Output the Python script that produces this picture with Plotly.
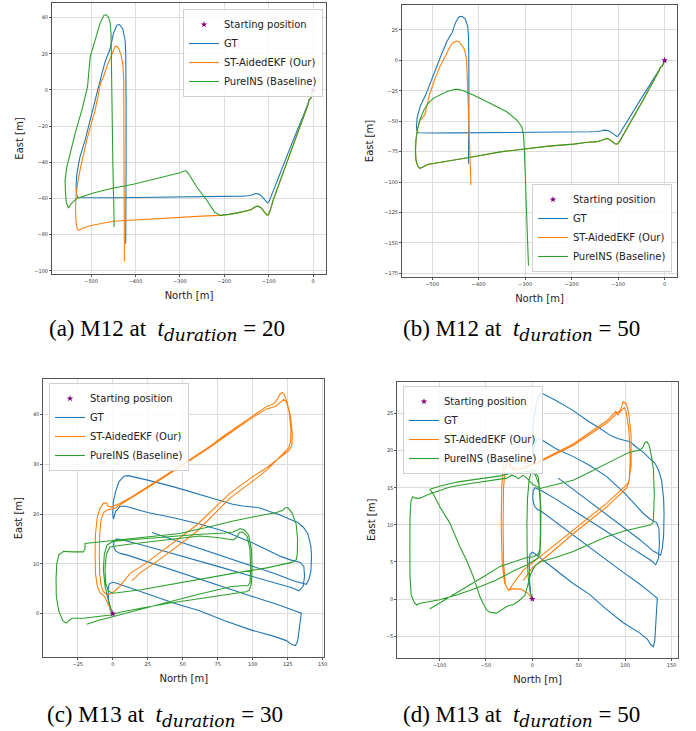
import plotly.graph_objects as go

# ---------------- data: (North [m], East [m]) ----------------
# M12 ground truth (panels a and b)
gt12 = [(0,0),(-2,-2.5),(-5,-4.5),(-9,-5.5),(-12,-8),(-50,-31),(-90,-56),(-97,-60.5),(-100,-62.2),
        (-103,-62.5),(-108,-61),(-115,-59),(-122,-57.6),(-130,-57.3),(-137,-58),(-145,-58.5),(-160,-58.7),
        (-200,-58.9),(-250,-59.1),(-300,-59.2),(-350,-59.4),(-400,-59.5),(-450,-59.6),(-500,-59.7),
        (-525,-59.8),(-530,-59.5),(-533,-57.5),(-534,-53.7),(-532,-46.3),(-525,-37),(-513.5,-27.9),
        (-506,-20),(-494.6,-9.4),(-479.6,5.3),(-468.5,15.5),(-457,22.9),(-449.7,31.2),(-442.2,35.8),
        (-436,36.2),(-428.7,33.9),(-423.4,27.5),(-422,20.1),(-421.5,8),(-421.2,-5.7),(-421.2,-42.6),(-422,-85)]

# M12, t_duration = 20
ekf12_t20 = [(0,0),(-2,-2.5),(-5,-4.5),(-9,-5.5),(-12,-8.5),(-50,-34),(-90,-61),(-97,-67),(-100.5,-69),
             (-104,-69.2),(-110,-67.5),(-118,-65),(-125,-64.3),(-130,-64.6),(-140,-66.3),(-150,-67),(-170,-68),
             (-190,-68.8),(-209.5,-69.4),(-250,-69.8),(-300,-70.4),(-350,-71.2),(-400,-72),(-450,-72.6),
             (-500,-75),(-520,-76.5),(-527,-77.7),(-531,-77),(-534,-73),(-535,-66),(-534,-59),(-530,-51),
             (-525,-44.5),(-518,-36),(-510,-28),(-500,-19),(-491,-11.3),(-484,-3),(-480,2.6),(-476,5.5),
             (-472,7.2),(-465,12.7),(-457,17.3),(-450,22),(-446,24),(-442,24.2),(-437,22.5),(-432,19),
             (-428,13),(-426.5,5),(-426,-20),(-425.5,-60),(-425,-94.8)]
ins12_t20 = [(0,0),(-2,-2.5),(-5,-4.5),(-9,-5.5),(-12,-8.5),(-50,-34),(-90,-61),(-97,-67),(-100.5,-69),
             (-104,-69.2),(-110,-67.5),(-118,-65),(-125,-64.3),(-130,-64.6),(-140,-66.3),(-150,-67),(-170,-68),
             (-190,-68.8),(-209.5,-69.4),(-222,-67.5),(-239.5,-61),(-262,-53.7),(-280,-46.5),(-287,-44.6),
             (-300,-45.8),(-352,-49),(-405,-52.2),(-457,-54.6),(-495,-57),(-532,-60),(-545,-63),(-551,-65.3),
             (-556,-62),(-557.5,-57),(-558.6,-50),(-555,-43),(-551,-39),(-536,-24.2),(-521,-11.3),(-508,1.7),
             (-502,18.3),(-491,27.5),(-480,36.7),(-471,41.3),(-466,41.6),(-461,40.4),(-457,37),(-455,31),
             (-453.5,15),(-453,-5.7),(-451,-40),(-448,-75.8)]

# M12, t_duration = 50
ekf12_t50 = [(0,0),(-2,-2.5),(-5,-4.5),(-9,-5.5),(-12,-8.5),(-50,-35),(-90,-61),(-97,-66.5),(-102.7,-68.8),
             (-107,-68.5),(-115,-66),(-124,-64.1),(-132,-65.2),(-146,-66.8),(-170,-67.5),(-196,-68.8),
             (-250,-70.5),(-304,-72.9),(-350,-75),(-411.6,-79.2),(-450,-81.5),(-483.5,-83.3),(-510,-85.5),
             (-522,-88),(-526.6,-88.8),(-531,-87),(-535,-82),(-536,-74),(-535,-65.5),(-532,-57),(-526.5,-49.2),
             (-516,-45),(-505,-27),(-494,-15),(-483.5,-5.2),(-470.5,4.4),(-462,11.2),(-455,14.5),(-447.6,15.9),
             (-441,15),(-437,12.6),(-432,10),(-429.6,7.1),(-427,3),(-426,0.3),(-424.5,-15),(-422.6,-32.6),
             (-418.8,-73.7),(-416.7,-102.5)]
ins12_t50 = [(0,0),(-2,-2.5),(-5,-4.5),(-9,-5.5),(-12,-8.5),(-50,-35),(-90,-61),(-97,-66.5),(-102.7,-68.8),
             (-107,-68.5),(-115,-66),(-124,-64.1),(-132,-65.2),(-146,-66.8),(-170,-67.5),(-196,-68.8),
             (-250,-70.5),(-304,-72.9),(-350,-75),(-411.6,-79.2),(-450,-81.5),(-483.5,-83.3),(-510,-85.5),
             (-522,-88),(-526.6,-88.8),(-531,-87),(-535,-82),(-536,-74),(-535,-65.5),(-532,-57),(-526.6,-49),
             (-518,-41),(-508.6,-35.3),(-497,-31),(-483.5,-28.5),(-468,-25.5),(-451,-23.8),(-443,-23.7),
             (-433,-24.9),(-411.6,-28.5),(-375.7,-35.3),(-339.8,-42.2),(-318,-49),(-307.5,-54.5),(-304,-60),
             (-301.7,-73.7),(-298,-114.8),(-293,-168.8)]

# M13 ground truth (panels c and d)
gt13 = [(0,0),(-1.8,0.7),(-3,2.7),(-3.3,5),(-2.5,6.0),(0,6.3),(2.8,6.1),
        (10,5.4),(25,4.0),(44,2.1),(62,0.6),(80,-1.4),(98,-3.2),(116,-4.6),(124,-5.4),(128,-6.2),(130.5,-6.4),
        (132,-5.6),(133,-3.5),(134,-1),(134.7,0.1),
        (130,0.6),(116,2.0),(98,3.6),(80,5.3),(62,7.0),(44,8.7),(25,10.4),(10,11.8),(5.2,12.1),(2,12.6),
        (0.5,13.5),(1,14.6),(2.8,15),
        (10,14.6),(25,13.5),(44,12.0),(62,10.6),(80,9.1),(98,7.6),(116,6.2),(128,5.2),(133,4.6),(136,5.5),
        (137,7.5),(136.5,9.5),(134,10.3),(126.8,10.8),(120,11.5),(100,14.2),(80.2,16.5),(62,18.0),(44.2,19.2),
        (25,20.3),(11,21.4),(8,21.6),(5,21.5),(2,20.5),(0.5,19),(0,20),(0.5,22.5),(2,24.5),(4.5,26.5),
        (8,27.6),(11,27.7),
        (25,26.8),(44.2,25.4),(60,24),(73,23),(85,22),(92.7,21.6),(100,21.4),(105.3,21.2),(112,20.5),
        (119.6,19.8),(126,19.0),(132.2,18.3),(136,17.4),(139.4,16),(141.5,13.5),(142,11.5),(141.5,8.5),
        (140,6.8),(138.3,5.9),
        (130,6.5),(116,8.0),(98,9.7),(80,11.3),(62,13.0),(44,14.7),(35,15.6),(28,16.3)]

# M13, t_duration = 30
ekf13_t30 = [(0,0),(-3,1.8),(-6,3.5),(-9,4.2),(-11,5.5),(-12.3,8),(-12.6,12),(-12.3,16),(-11,19.5),(-9,21.2),
             (-6.5,22.2),(-4.3,22.2),(-3.2,21.5),(-1,21.4),(1.5,21.7),(5,22.1),(12,23.2),(24,25.3),(40,28.2),
             (55,30.9),(70,33.7),(80,35.8),(90,37.8),(100,39.7),(110,41.6),(115,42.1),(117.5,43),(119.5,44.1),
             (121,44.4),(122.5,44),(124.5,42.5),(127,39.5),(128.3,36),(128,33.8),(126,32.8),(120,31.5),
             (110,29.3),(100,27.5),(83.8,24.2),(60,17.8),(36.1,12.8),(22,9.8),(12.4,8.1),(5,5.5),(0,4.2),
             (-4,3.8),(-7,4.5),(-8.5,6),(-9.3,8),(-9.6,12),(-9.3,16),(-8.3,19),(-6.5,20.3),(-4,20.8),(-1,21.0),
             (2,21.2),(5,21.8),(12,23.0),(24,25.1),(40,28.0),(55,30.7),(70,33.5),(80,35.5),(90,37.5),
             (100,39.4),(110,41.1),(116,41.6),(119,42.2),(122,43.0),(124,42.5),(126,40.5),(127.3,37),
             (127,34.5),(125.5,33.2),(120,31.6),(110,28.8),(100,26.6),(83.8,23.2),(60,16.5),(36.1,11.4),
             (20,8.3),(13.6,6.6)]
ins13_t30 = [(0,0),(-3,2.5),(-5.5,5.5),(-6.7,8.8),(-6,12),(-4,13.8),(0,14.5),(3,14.6),(20,15),(40,15.5),
             (60,15.9),(80,16.2),(86,16.4),(89,16.8),(91,17.1),(94,16.8),(97,15.8),(99,13),(99.5,9.5),(99,6),
             (97.5,4.7),(95,4.4),(85,4),(62,3.1),(40,2.1),(20,1.1),(5,0.3),(0,-0.2),(-10,-0.6),(-21,-0.9),
             (-29,-0.9),(-31.5,-1.4),(-33,-1.9),(-35.5,-1.5),(-38.5,0.5),(-40.3,3.5),(-40.5,7),(-40,10),
             (-38.5,11.8),(-35,12.5),(-28,12.4),(-21,12.4),(-19.8,13),(-19.8,14.1),(-10,14.4),(0,14.7),
             (20,15.2),(48,16.1),(70,17.5),(86,18.6),(100,19.4),(110,20),(117,20.3),(121,20.7),(123,21.2),
             (125,21.3),(128,20.3),(131,18),(132,15),(131.8,12),(131,10.8),(128,10.3),(110,9.2),(86,8.1),
             (62,6.9),(40,5.8),(20,4.8),(0.4,4.1),(-3,4.5),(-5,6),(-5.5,9),(-4.5,12),(-2,13.4),(10,13.9),
             (30,14.6),(50,15.3),(62,15.6),(75,15.3),(86,14.8),(88.6,15.3),(90.5,16.3),(93,16.4),(96,15.5),
             (98,13),(98.5,9),(98,6.2),(96.5,5.6),(92,5.6),(83.8,5.4),(60,3.8),(40,2.4),(20,0.9),(0,-0.6),
             (-10,-1.3),(-18.6,-2.1)]

# M13, t_duration = 50
ekf13_t50 = [(0,0),(-5,0.8),(-12,1.3),(-20,1.4),(-26,1.2),(-30,2.2),(-32.5,5),(-33.5,10),(-33,15),
             (-30.5,18.5),(-27,19.1),(-25.9,18.95),(-22,17.6),(-20.5,17.8),(-18,17.4),(-11.5,17.5),(8.3,18.5),
             (44,20.7),(80,23.7),(88,24.6),(92,25.1),(95,25.5),(97,26.2),(98,26.6),(101.5,26.3),(104,25),
             (106.5,22),(106.5,18),(104,15.8),(101.7,15.4),(80,12.9),(44,9.3),(8.3,5.7),(-9.7,3.9),(-20.5,2.1),
             (-25.5,1.1),(-29,2),(-31,5),(-31.5,10),(-31,15),(-29,17.8),(-26.5,18.6),(-24,17.8),(-20,17.4),
             (-10,17.7),(8,18.6),(44,20.9),(80,24),(90,25.3),(92.5,24.8),(95,25.3),(97,25.6),(99,25.8),
             (101,25.3),(104,23),(105.5,19),(104.5,16),(102,15),(80,12.4),(44,8.8),(20,6.2),(0,4.2),(-9.7,2.5)]
ins13_t50 = [(0,0),(-2.5,1),(-4.5,3),(-5.5,6),(-5.8,10),(-5.2,13.5),(-3.5,16),(-0.7,17.4),(3,17.3),(6.5,16.4),
             (8.5,14),(9.3,12),(9,8),(8.3,6.2),(6,5.5),(2,5.2),(-6,4.6),(-20,3.8),(-40,2.5),(-60,1.5),(-80,0.6),
             (-100,-0.1),(-118,-0.5),(-122,-0.6),(-124.6,-0.8),(-127,-0.5),(-130.5,0.5),(-131.8,3),(-132,7),
             (-131.8,11),(-130.8,13.2),(-129,13.8),(-126,13.6),(-121,13.6),(-110.2,14.2),(-88.7,15.1),
             (-70,15.5),(-52.8,15.8),(-35,16.1),(-27.6,16.3),(-22,16.7),(-18,16.5),(-15,16.2),(-10,16.7),
             (-5,16.2),(0,15.5),(8.3,14.9),(30,15.6),(44,16.0),(60,17),(80,18.3),(95,19.2),(105,19.8),
             (116,20.1),(119,20.4),(121.4,21.1),(123.5,21.2),(126,20.7),(128,19.5),(130.5,17.5),(131.5,14),
             (131,11.5),(130.4,10.4),(128,10),(116,9.7),(100,9.2),(80,8.4),(60,7.3),(44,6.4),(25,5.6),
             (8.3,5.0),(3,4.5),(-2,3.3),(-5,1.8),(-8,0.5),(-14,-0.2),(-20,-0.7),(-27.6,-1.0),(-38.4,-1.9),
             (-45,-1.8),(-49,-1.5),(-53,-0.6),(-56.4,0.3),(-63.6,3.0),(-70,5),(-77.9,7),(-88.7,10.2),
             (-99.5,12.4),(-106,14),(-110.2,14.8),(-100,15.2),(-80,15.8),(-60,16.2),(-40,16.5),(-34.8,16.6),
             (-25,16.9),(-15,17),(-8,17.2),(-4,17.2),(-1,17.0),(3,16.8),(7,15.5),(8.5,13),(8.7,9),(8,6.6),
             (6,6.0),(1,5.7),(-6,5.6),(-20,5.0),(-34.8,4.4),(-50,3.2),(-70.7,1.7),(-90,0.2),(-110.3,-1.3)]

start_point = (0, 0)
caption_ids = ["(a) M12", "(b) M12", "(c) M13", "(d) M13"]
caption_durations = [20, 50, 30, 50]
series_names = ["Starting position", "GT", "ST-AidedEKF (Our)", "PureINS (Baseline)"]

# ---------------- layout ----------------
W, H = 696, 731
def fx(p): return p / W
def fy(p): return 1 - p / H

C_GT, C_EKF, C_INS, C_STAR = "#1f77b4", "#ff7f0e", "#2ca02c", "purple"
FONT = "DejaVu Sans"
NB = "\u00a0"

def caption(i):
    return (caption_ids[i] + " at" + NB + NB + "<i>t</i>"
            + "<sub><span style=\"font-family:DejaVu Serif;font-size:17px\"><i>duration</i></span></sub>"
            + NB + "=" + NB + str(caption_durations[i]))

panels = [
    dict(gt=gt12, ekf=ekf12_t20, ins=ins12_t20, box=(52, 326, 3, 274), xr=[-588, 29], yr=[-101.8, 48.1],
         xt=list(range(-500, 1, 100)), yt=list(range(-100, 41, 20)),
         leg=dict(x=fx(323), y=fy(9), xanchor="right", yanchor="top"), cap=(167, 330)),
    dict(gt=gt12, ekf=ekf12_t50, ins=ins12_t50, box=(402, 677, 5, 277), xr=[-565, 26.5], yr=[-178, 45.5],
         xt=list(range(-500, 1, 100)), yt=list(range(-175, 26, 25)),
         leg=dict(x=fx(672), y=fy(272), xanchor="right", yanchor="bottom"), cap=(521, 330)),
    dict(gt=gt13, ekf=ekf13_t30, ins=ins13_t30, box=(43.3, 324.3, 379, 657.3), xr=[-49.6, 151.1], yr=[-8.75, 47.1],
         xt=list(range(-25, 151, 25)), yt=list(range(0, 41, 10)),
         leg=dict(x=fx(49), y=fy(383), xanchor="left", yanchor="top"), cap=(165, 716)),
    dict(gt=gt13, ekf=ekf13_t50, ins=ins13_t50, box=(397.3, 677.7, 381.7, 658), xr=[-145.5, 156.7], yr=[-7.95, 29.3],
         xt=list(range(-100, 151, 50)), yt=list(range(-5, 26, 5)),
         leg=dict(x=fx(403), y=fy(386), xanchor="left", yanchor="top"), cap=(521, 716)),
]

fig = go.Figure()
layout = dict(width=W, height=H, margin=dict(l=0, r=0, t=0, b=0), paper_bgcolor="white",
              plot_bgcolor="white", font=dict(family=FONT, color="#222"), annotations=[])

def unzip(pts):
    return [p[0] for p in pts], [p[1] for p in pts]

for i, p in enumerate(panels):
    k = "" if i == 0 else str(i + 1)
    xa, ya = "x" + k, "y" + k
    lg = "legend" + k
    for name, pts, col, rank in [(series_names[1], p["gt"], C_GT, 2),
                                 (series_names[2], p["ekf"], C_EKF, 3),
                                 (series_names[3], p["ins"], C_INS, 4)]:
        xs, ys = unzip(pts)
        fig.add_trace(go.Scatter(x=xs, y=ys, mode="lines", name=name, line=dict(color=col, width=1.1),
                                 xaxis=xa, yaxis=ya, legend=lg, legendrank=rank))
    fig.add_trace(go.Scatter(x=[start_point[0]], y=[start_point[1]], mode="markers", name=series_names[0],
                             marker=dict(symbol="star", color=C_STAR, size=5), xaxis=xa, yaxis=ya,
                             legend=lg, legendrank=1))
    l, r, t, b = p["box"]
    axcommon = dict(showline=True, mirror=True, linecolor="#555", linewidth=1, showgrid=True,
                    gridcolor="#dcdcdc", gridwidth=1, zeroline=False, ticks="outside", ticklen=2,
                    tickcolor="#555", tickfont=dict(size=5, color="#333", family=FONT), automargin=False)
    layout["xaxis" + k] = dict(axcommon, domain=[fx(l), fx(r)], range=p["xr"], tickvals=p["xt"],
                               anchor=ya, title=dict(text="North [m]", font=dict(size=10, color="#222"), standoff=8))
    layout["yaxis" + k] = dict(axcommon, domain=[fy(b), fy(t)], range=p["yr"], tickvals=p["yt"],
                               anchor=xa, title=dict(text="East [m]", font=dict(size=10, color="#222"), standoff=8))
    layout[lg] = dict(p["leg"], bgcolor="rgba(255,255,255,0.85)", bordercolor="#d0d0d0", borderwidth=1,
                      font=dict(size=10, family=FONT, color="#222"), itemwidth=30, traceorder="normal")
    cx, cy = p["cap"]
    layout["annotations"].append(dict(text=caption(i), x=fx(cx), y=fy(cy), xref="paper", yref="paper",
                                      showarrow=False, xanchor="center", yanchor="middle",
                                      font=dict(family="Liberation Serif", size=23, color="black")))

fig.update_layout(**layout)
fig.write_html("out.html")
